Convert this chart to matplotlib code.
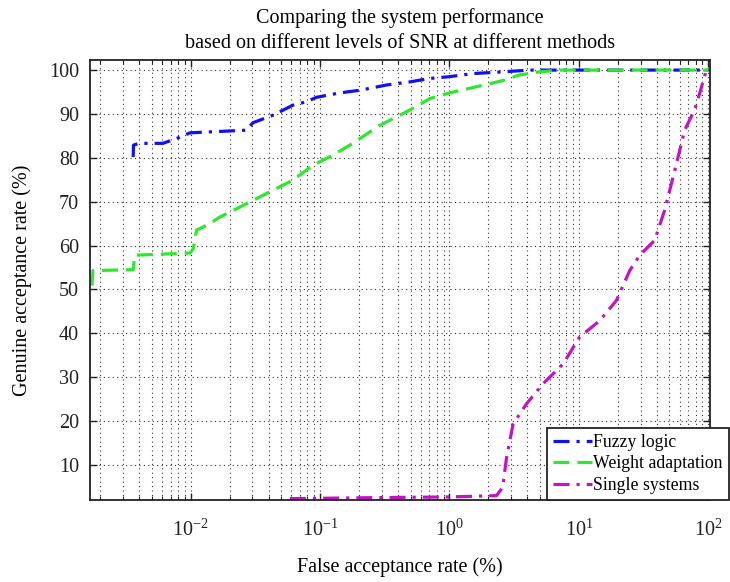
import matplotlib
matplotlib.use("Agg")
import matplotlib.pyplot as plt
import numpy as np

# ---- data ----
fuzzy_x = [3.6e-3, 3.62e-3, 4.0e-3, 6.1e-3, 7.8e-3, 9.9e-3, 2.7e-2, 3.03e-2, 4.32e-2,
           6.17e-2, 7.87e-2, 9.4e-2, 0.142, 0.203, 0.326, 0.493, 0.704, 1.0, 1.51,
           2.58, 4.17, 100.0]
fuzzy_y = [80.2, 82.9, 83.3, 83.3, 84.4, 85.7, 86.3, 88.0, 89.7, 92.0, 92.8, 93.8,
           94.8, 95.4, 96.6, 97.3, 98.1, 98.5, 99.2, 99.6, 100.0, 100.0]

weight_x = [1.73e-3, 1.76e-3, 3.6e-3, 3.7e-3, 9.9e-3, 1.05e-2, 1.11e-2, 1.41e-2,
            1.68e-2, 2.27e-2, 3.03e-2, 4.32e-2, 6.17e-2, 8.8e-2, 0.1256, 0.17, 0.29,
            0.493, 0.704, 1.0, 1.62, 2.58, 3.49, 4.98, 7.11, 100.0]
weight_y = [50.9, 54.3, 54.5, 57.8, 58.3, 59.3, 63.5, 65.0, 66.5, 68.4, 70.3, 72.6,
            74.9, 78.3, 80.6, 82.9, 87.4, 90.9, 93.5, 94.8, 96.2, 97.6, 98.9, 99.6,
            100.0, 100.0]

single_x = [5.85e-2, 0.2, 1.0, 2.31, 2.58, 2.76, 3.10, 3.93, 5.28, 7.54, 10.1, 14.5,
            19.5, 24.7, 29.5, 38.5, 45.9, 54.9, 65.6, 78.3, 85.7, 96.5]
single_y = [2.3, 2.5, 2.7, 3.0, 4.9, 11.7, 19.3, 23.9, 28.5, 33.0, 39.1, 42.9, 47.5,
            54.3, 57.8, 61.2, 68.0, 77.0, 86.3, 90.9, 94.7, 100.0]

labels = ["Fuzzy logic", "Weight adaptation", "Single systems"]
yticks = [10, 20, 30, 40, 50, 60, 70, 80, 90, 100]
xticks = [1e-2, 1e-1, 1e0, 1e1, 1e2]

title = "Comparing the system performance\nbased on different levels of SNR at different methods"
xlabel = "False acceptance rate (%)"
ylabel = "Genuine acceptance rate (%)"

# ---- style ----
plt.rcParams['font.family'] = ['Liberation Serif', 'DejaVu Serif']
plt.rcParams['mathtext.fontset'] = 'custom'
plt.rcParams['mathtext.rm'] = 'Liberation Serif'
plt.rcParams['mathtext.it'] = 'Liberation Serif:italic'

W, H = 730, 582
fig = plt.figure(figsize=(W / 100, H / 100), dpi=100)
L, R, T, B = 90, 710, 60, 500
ax = fig.add_axes([L / W, 1 - B / H, (R - L) / W, (B - T) / H])

lw = 2.3
ax.plot(fuzzy_x, fuzzy_y, color='#1010f0', lw=lw, linestyle=(0, (5, 2.2, 1, 2.2)), label=labels[0])
ax.plot(weight_x, weight_y, color='#2ee82e', lw=lw, linestyle=(0, (5, 2.5)), label=labels[1])
ax.plot(single_x, single_y, color='#c214c2', lw=lw, linestyle=(0, (5, 2.2, 1, 2.2)), label=labels[2])

ax.set_xscale('log')
ax.set_xlim(1.67e-3, 103)
ax.set_ylim(2.0, 102.3)
ax.set_xticks(xticks)
ax.set_yticks(yticks)

ax.grid(True, which='major', axis='both', linestyle=(0, (1, 3)), color='#333333', lw=0.8)
ax.grid(True, which='minor', axis='x', linestyle=(0, (1, 3)), color='#333333', lw=0.8)

ax.tick_params(which='both', direction='in', top=True, right=True, labelsize=14.5, colors='#222222')
ax.tick_params(which='major', length=5, width=1)
ax.tick_params(which='minor', length=3, width=0.8)
ax.tick_params(axis='x', pad=14)
ax.tick_params(axis='y', pad=8)
for s in ax.spines.values():
    s.set_linewidth(1.3)
    s.set_color('#222222')

ax.set_xlabel(xlabel, fontsize=14.5, labelpad=12)
ax.set_ylabel(ylabel, fontsize=14.5, labelpad=12)
ax.set_title(title, fontsize=14.5, pad=9, linespacing=1.38)

leg = ax.legend(loc='lower left', bbox_to_anchor=((547 - L) / (R - L), 0.0),
                fontsize=12.8, frameon=True, fancybox=False, framealpha=1,
                edgecolor='#222222', borderpad=0.35, labelspacing=0.25,
                handlelength=2.2, handletextpad=0.05, borderaxespad=0.0)
leg.get_frame().set_linewidth(1.3)

fig.savefig("out.png", dpi=100)
